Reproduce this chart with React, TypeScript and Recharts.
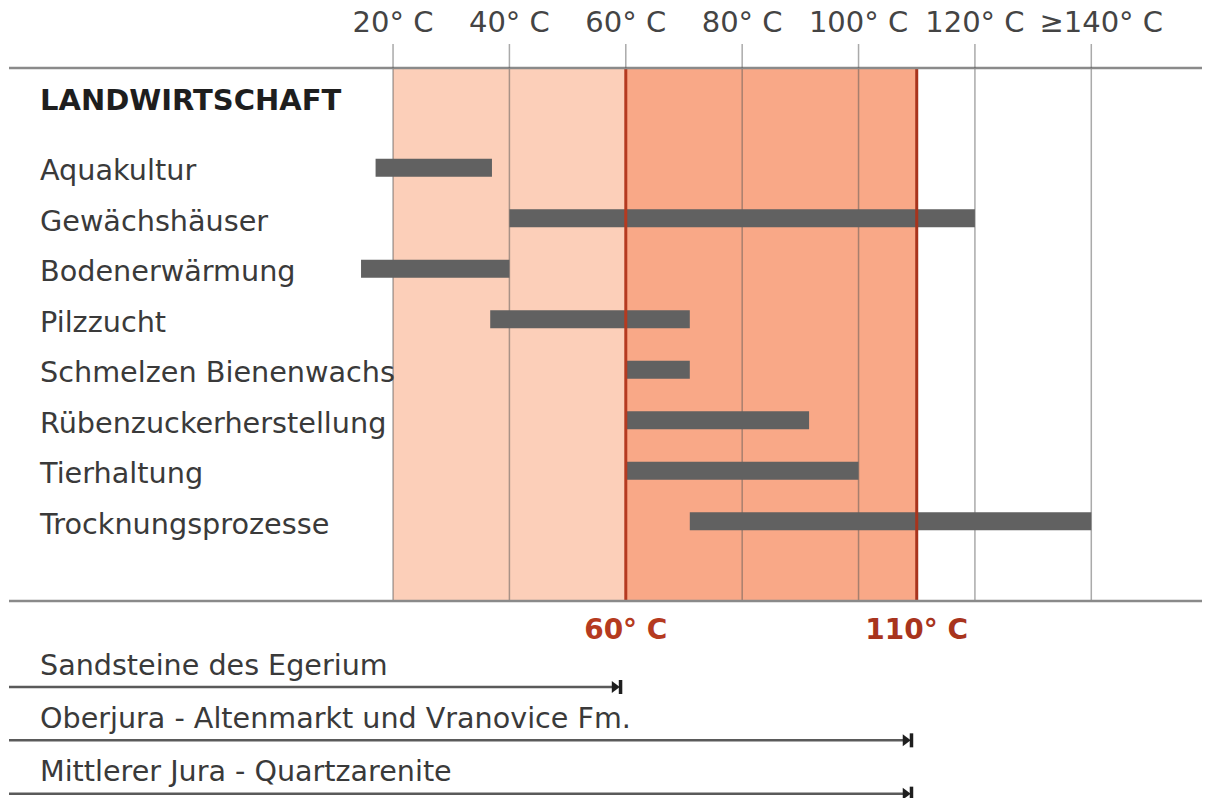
import React from 'react';
import {
  ComposedChart,
  Bar,
  XAxis,
  YAxis,
  CartesianGrid,
  ReferenceLine,
  Customized,
} from 'recharts';

// ---------- data ----------
const CATEGORIES = [
  'Aquakultur',
  'Gewächshäuser',
  'Bodenerwärmung',
  'Pilzzucht',
  'Schmelzen Bienenwachs',
  'Rübenzuckerherstellung',
  'Tierhaltung',
  'Trocknungsprozesse',
];
const RANGE_START = [17, 40, 14.5, 36.7, 60, 60, 60, 71];
const RANGE_END = [37, 120, 40, 71, 71, 91.5, 100, 140];

const TICKS = [20, 40, 60, 80, 100, 120, 140];
const TICK_LABELS = ['20° C', '40° C', '60° C', '80° C', '100° C', '120° C', '≥140° C'];

// zone boundaries: [20..60] light zone, [60..110] hot zone
const ZONE_BOUNDS = [20, 60, 110];

const THRESHOLDS = [60, 110];
const THRESHOLD_LABELS = ['60° C', '110° C'];

const HEADER = 'LANDWIRTSCHAFT';

const FORMATIONS = [
  'Sandsteine des Egerium',
  'Oberjura - Altenmarkt und Vranovice Fm.',
  'Mittlerer Jura - Quartzarenite',
];
const FORMATION_MAX = [60, 110, 110];

const X_MIN = -46.0;
const X_MAX = 160.4;

// ---------- build tables ----------
const rows = CATEGORIES.map((name, i) => ({ name, range: [RANGE_START[i], RANGE_END[i]] }));
const formationRows = FORMATIONS.map((name, i) => ({ name, range: [X_MIN, FORMATION_MAX[i]] }));

// ---------- styles ----------
const FONT = '"DejaVu Sans", Verdana, sans-serif';
const TEXT = '#3a3a3a';
const ZONE_FILLS = ['none', '#fccfb9', '#f9a887', 'none'];
const THRESH_COLORS = ['#b53a20', '#a8341d'];
const W = 1202;

const tickLabel = (v: number) => TICK_LABELS[TICKS.indexOf(v)] ?? String(v);

const TopTick = (props: any) => {
  const { x, y, payload } = props;
  const label = tickLabel(payload.value);
  const shift = label.startsWith('≥') ? 10 : 0;
  return (
    <text x={x + shift} y={y} dy={-8} textAnchor="middle" fontFamily={FONT} fontSize={29} fill="#444">
      {label}
    </text>
  );
};

const CategoryTick = (props: any) => {
  const { y, payload } = props;
  return (
    <text x={32} y={y} dy={2} dominantBaseline="central" fontFamily={FONT} fontSize={28.7} fill={TEXT}>
      {payload.value}
    </text>
  );
};

const FormationTick = (props: any) => {
  const { y, payload } = props;
  return (
    <text x={32} y={y} dominantBaseline="central" fontFamily={FONT} fontSize={28.6} fill={TEXT}>
      {payload.value}
    </text>
  );
};

const HeaderText = () => (
  <text x={32} y={100} dominantBaseline="central" fontFamily={FONT} fontSize={29} fontWeight="bold" fill="#1e1e1e">
    {HEADER}
  </text>
);

const ArrowShape = (props: any) => {
  const { x, y, width, height } = props;
  const ly = y + height;
  const xe = x + width - 4;
  return (
    <g>
      <line x1={x} y1={ly} x2={xe - 8} y2={ly} stroke="#5a5a5a" strokeWidth={2.5} />
      <polygon points={`${xe - 10},${ly - 6} ${xe - 2},${ly} ${xe - 10},${ly + 6}`} fill="#1e1e1e" />
      <rect x={xe - 3} y={ly - 7} width={3.5} height={14} fill="#1e1e1e" />
    </g>
  );
};

export default function App() {
  return (
    <div style={{ position: 'relative', width: W, height: 790 }}>
      <div style={{ position: 'absolute', left: 0, top: -8 }}>
        <ComposedChart
          width={W}
          height={650}
          data={rows}
          layout="vertical"
          margin={{ top: 0, right: 0, bottom: 48, left: 0 }}
        >
          <CartesianGrid
            xAxisId="t"
            yAxisId="c"
            horizontal={false}
            vertical
            verticalValues={ZONE_BOUNDS}
            verticalFill={ZONE_FILLS}
            fillOpacity={1}
            stroke="none"
          />
          <CartesianGrid
            xAxisId="t"
            yAxisId="c"
            horizontal={false}
            vertical
            verticalValues={TICKS}
            stroke="#555"
            strokeOpacity={0.5}
            strokeWidth={1.5}
          />
          <XAxis
            xAxisId="t"
            type="number"
            orientation="top"
            domain={[X_MIN, X_MAX]}
            allowDataOverflow
            ticks={TICKS}
            height={68}
            tickSize={24}
            tickMargin={4}
            interval={0}
            tick={<TopTick />}
            tickLine={{ stroke: '#555', strokeOpacity: 0.5, strokeWidth: 1.5 }}
            axisLine={{ stroke: '#8a8a8a', strokeWidth: 2.5 }}
          />
          <XAxis
            xAxisId="b"
            type="number"
            orientation="bottom"
            domain={[X_MIN, X_MAX]}
            allowDataOverflow
            height={1}
            tick={false}
            tickLine={false}
            axisLine={{ stroke: '#8a8a8a', strokeWidth: 2.5 }}
          />
          <YAxis
            yAxisId="c"
            type="category"
            dataKey="name"
            width={1}
            padding={{ top: 74.75, bottom: 54.25 }}
            axisLine={false}
            tickLine={false}
            interval={0}
            tick={<CategoryTick />}
          />
          {THRESHOLDS.map((t, i) => (
            <ReferenceLine
              key={`t${i}`}
              xAxisId="t"
              yAxisId="c"
              x={t}
              stroke={THRESH_COLORS[i]}
              strokeWidth={3}
              ifOverflow="visible"
              label={{
                value: THRESHOLD_LABELS[i],
                position: 'bottom',
                offset: 18,
                fill: THRESH_COLORS[i],
                fontFamily: FONT,
                fontSize: 28,
                fontWeight: 'bold',
              }}
            />
          ))}
          <Bar
            xAxisId="t"
            yAxisId="c"
            dataKey="range"
            fill="#616161"
            barSize={18}
            isAnimationActive={false}
          />
          <Customized component={<HeaderText />} />
        </ComposedChart>
      </div>
      <div style={{ position: 'absolute', left: 0, top: 630 }}>
        <ComposedChart
          width={W}
          height={160}
          data={formationRows}
          layout="vertical"
          margin={{ top: 0, right: 0, bottom: 0, left: 0 }}
        >
          <XAxis type="number" domain={[X_MIN, X_MAX]} allowDataOverflow hide />
          <YAxis
            type="category"
            dataKey="name"
            width={1}
            axisLine={false}
            tickLine={false}
            interval={0}
            tick={<FormationTick />}
          />
          <Bar dataKey="range" barSize={44} fill="none" shape={<ArrowShape />} isAnimationActive={false} />
        </ComposedChart>
      </div>
    </div>
  );
}
